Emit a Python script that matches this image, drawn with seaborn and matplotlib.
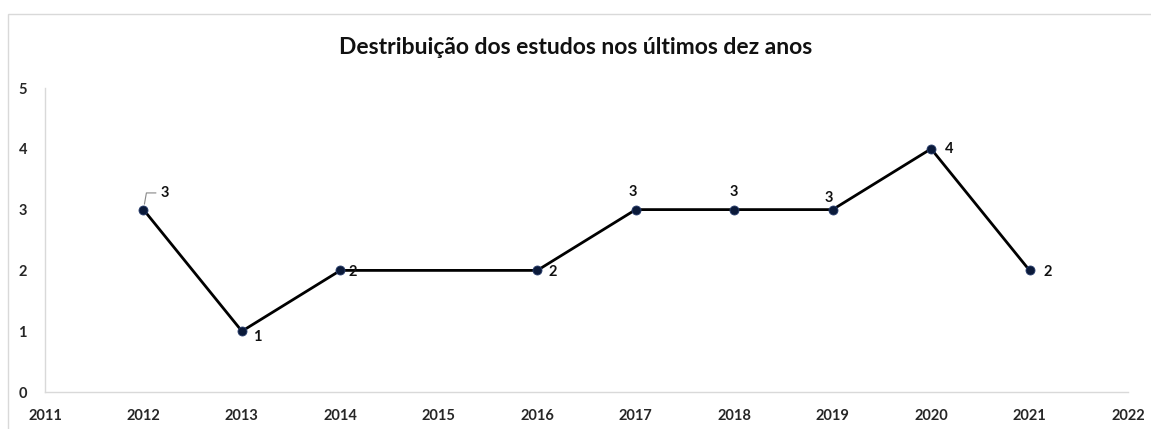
import matplotlib
matplotlib.use("Agg")
import matplotlib.pyplot as plt
import matplotlib.patches as mpatches
import seaborn as sns
import pandas as pd

# Number of studies per publication year
years = [2012, 2013, 2014, 2016, 2017, 2018, 2019, 2020, 2021]
studies = [3, 1, 2, 2, 3, 3, 3, 4, 2]
x_ticks = list(range(2011, 2023))
y_ticks = [0, 1, 2, 3, 4, 5]
title = "Destribuição dos estudos nos últimos dez anos"

# Label placement (offset in points) per year
label_offsets = {
    2012: (12, 12), 2013: (8, -4), 2014: (6, -1), 2016: (8, -1),
    2017: (-2, 13), 2018: (0, 13), 2019: (-3, 8), 2020: (10, 0), 2021: (10, -1),
}

df = pd.DataFrame({"year": years, "studies": studies})

sns.set_style("white")
plt.rcParams["font.family"] = ["Lato", "DejaVu Sans"]

fig = plt.figure(figsize=(11.51, 4.29), dpi=100)
ax = fig.add_axes([45 / 1151, 1 - 392 / 429, (1128 - 45) / 1151, (392 - 88) / 429])

# outer frame of the chart area
fig.patches.append(mpatches.Rectangle((8 / 1151, -0.1), 1.2, 1 - 14 / 429 + 0.1,
                                      transform=fig.transFigure, fill=False,
                                      edgecolor="#d9d9d9", linewidth=1.0))

sns.lineplot(data=df, x="year", y="studies", ax=ax, color="black", linewidth=2.0,
             marker="o", markersize=6.5, markerfacecolor="#0b1a3a",
             markeredgecolor="#2a3f6e", markeredgewidth=0.6)

for yr, val in zip(years, studies):
    dx, dy = label_offsets[yr]
    ax.annotate(str(val), (yr, val), xytext=(dx, dy), textcoords="offset points",
                ha="center" if yr in (2017, 2018, 2019) else "left", va="center",
                fontsize=10.5, fontweight="bold", color="#111111")

# leader line for the first label
ax.annotate("", xy=(2012, 3), xytext=(9, 12), textcoords="offset points",
            arrowprops=dict(arrowstyle="-", color="#888888", lw=0.8,
                            shrinkA=0, shrinkB=4,
                            connectionstyle="angle,angleA=0,angleB=80,rad=0"))

ax.set_xlim(2011, 2022)
ax.set_ylim(0, 5)
ax.set_xticks(x_ticks)
ax.set_yticks(y_ticks)
ax.set_xticklabels([str(t) for t in x_ticks], fontsize=10.5, fontweight="bold")
ax.set_yticklabels([str(t) for t in y_ticks], fontsize=10.5, fontweight="bold")
ax.tick_params(axis="x", length=0, pad=12)
ax.tick_params(axis="y", length=0, pad=13)
ax.set_xlabel("")
ax.set_ylabel("")
for side in ("top", "right"):
    ax.spines[side].set_visible(False)
for side in ("left", "bottom"):
    ax.spines[side].set_color("#d9d9d9")
    ax.spines[side].set_linewidth(1.0)

fig.text(0.5, 1 - 48 / 429, title, ha="center", va="center",
         fontsize=16.5, fontweight="bold", color="#111111")

fig.savefig("out.png", dpi=100)
